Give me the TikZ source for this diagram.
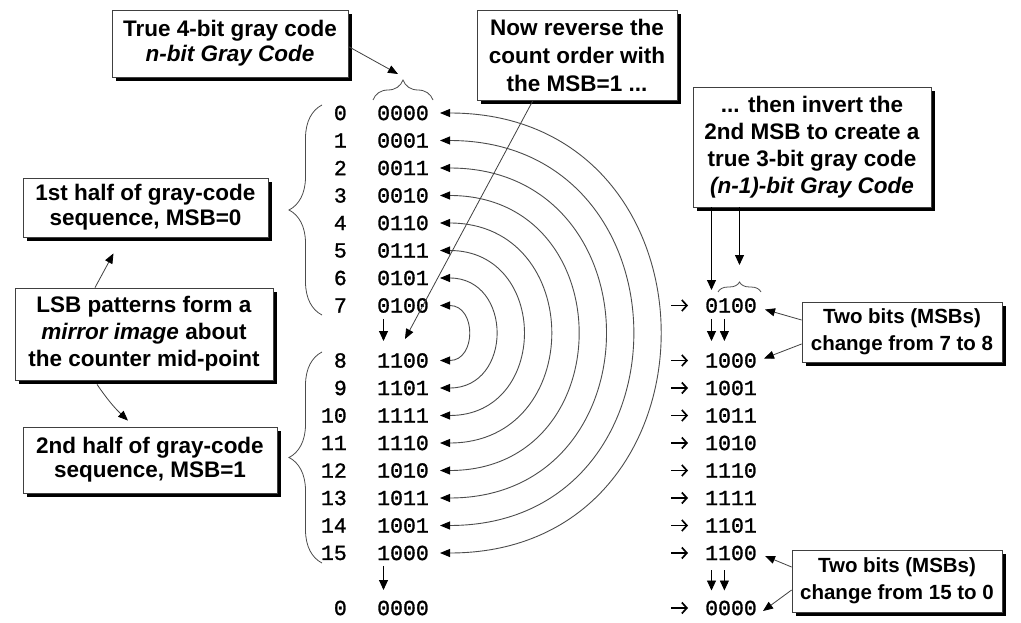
\documentclass[tikz,border=0pt]{standalone}
\usepackage{fontspec}
\setmainfont{Liberation Sans}
\newfontfamily\codefont[FakeBold=1.2]{Liberation Mono}
\usetikzlibrary{arrows.meta,shadows,decorations.pathreplacing}
\begin{document}
\begin{tikzpicture}[x=1pt,y=-1pt,
 box/.style={draw=black!75, line width=0.8pt, fill=white, align=center, inner sep=0pt,
   font=\fontsize{22.5}{26}\selectfont\bfseries,
   drop shadow={shadow xshift=4pt, shadow yshift=-4pt, fill=black, opacity=1}},
 codetxt/.style={font=\fontsize{21.5}{24}\selectfont\codefont, inner sep=0pt},
 ptr/.style={draw=black!75, line width=0.8pt, -{Triangle[length=10pt,width=8pt,color=black]}},
 vptr/.style={draw=black, line width=0.9pt, -{Triangle[length=10pt,width=9pt]}},
 rarr/.style={draw=black, line width=1.7pt, -{Straight Barb[length=5pt,width=11pt,line width=1.7pt]}},
 arcl/.style={draw=black!70, line width=0.9pt,
   {Triangle[length=10pt,width=8pt,color=black]}-{Triangle[length=10pt,width=8pt,color=black]}},
 brc/.style={draw=black!70, line width=0.8pt, decorate, decoration={brace, amplitude=#1}},
]
\fill[white] (0,0) rectangle (1021,623);
\useasboundingbox (0,0) rectangle (1021,623);

% boxes
\node[box, minimum width=236pt, minimum height=67pt, font=\fontsize{22.5}{25}\selectfont\bfseries] (B1) at (230,43.5)
  {True 4-bit gray code\\\textit{n-bit Gray Code}};
\node[box, minimum width=200pt, minimum height=90pt, font=\fontsize{22.5}{28}\selectfont\bfseries] (B2) at (577,55)
  {Now reverse the\\count order with\\the MSB=1 ...};
\node[box, minimum width=238pt, minimum height=120pt, font=\fontsize{22.5}{27}\selectfont\bfseries] (B3) at (812,147)
  {... then invert the\\2nd MSB to create a\\true 3-bit gray code\\\textit{(n-1)-bit Gray Code}};
\node[box, minimum width=245pt, minimum height=59pt, font=\fontsize{22.5}{25}\selectfont\bfseries] (B4) at (145.5,207.5)
  {1st half of gray-code\\sequence, MSB=0};
\node[box, minimum width=258pt, minimum height=92pt, font=\fontsize{22.5}{27}\selectfont\bfseries] (B5) at (144,334)
  {LSB patterns form a\\\textit{mirror image} about\\the counter mid-point};
\node[box, minimum width=254pt, minimum height=66pt, font=\fontsize{22.5}{24}\selectfont\bfseries] (B6) at (150,460)
  {2nd half of gray-code\\sequence, MSB=1};
\node[box, minimum width=200pt, minimum height=60pt, font=\fontsize{20.5}{27}\selectfont\bfseries] (B7) at (902,332)
  {Two bits (MSBs)\\change from 7 to 8};
\node[box, minimum width=210pt, minimum height=62pt, font=\fontsize{20.5}{27}\selectfont\bfseries] (B8) at (897,581)
  {Two bits (MSBs)\\change from 15 to 0};

% left column
\foreach \i/\k/\c in {0/0/0000,1/1/0001,2/2/0011,3/3/0010,4/4/0110,5/5/0111,6/6/0101,7/7/0100,
  8/9/1100,9/10/1101,10/11/1111,11/12/1110,12/13/1010,13/14/1011,14/15/1001,15/16/1000}{
  \node[codetxt, anchor=east] (n\i) at (347,{113+27.5*\k}) {\i};
  \node[codetxt, anchor=west] (c\i) at (377,{113+27.5*\k}) {\c};
  \coordinate (t\i) at (440,{113+27.5*\k});
}
\node[codetxt, anchor=east] (nF) at (347,608) {0};
\node[codetxt, anchor=west] (cF) at (377,608) {0000};

% arcs
\foreach \a/\b in {0/15,1/14,2/13,3/12,4/11,5/10,6/9,7/8}
  \draw[arcl] (t\a) to[out=0,in=0,looseness=1.7] (t\b);

% right column
\foreach \i/\k/\c in {7/7/0100,8/9/1000,9/10/1001,10/11/1011,11/12/1010,12/13/1110,13/14/1111,14/15/1101,15/16/1100,F/18/0000}{
  \node[codetxt, anchor=west] (r\i) at (705,{113+27.5*\k}) {\c};
  \draw[rarr] ([xshift=-34pt]r\i.west) -- ([xshift=-17pt]r\i.west);
}

% braces
\draw[brc=33pt] (322,315) -- (322,105);
\draw[brc=33pt] (322,563) -- (322,352);
\draw[brc=20pt] (373,100) -- (433,100);
\draw[brc=10pt] (718,292) -- (761,292);
\coordinate (tbt) at (403,78);
\coordinate (bt) at (739.5,282);

% down arrows
\draw[vptr] ([xshift=6.5pt,yshift=-6pt]c7.south west) -- ([xshift=6.5pt,yshift=12pt]c8.north west);
\draw[vptr] ([xshift=6.5pt,yshift=-5.5pt]c15.south west) -- ([xshift=6.5pt,yshift=10.5pt]cF.north west);
\draw[vptr] ([xshift=6.5pt,yshift=-6pt]r7.south west) -- ([xshift=6.5pt,yshift=12pt]r8.north west);
\draw[vptr] ([xshift=19.4pt,yshift=-6pt]r7.south west) -- ([xshift=19.4pt,yshift=12pt]r8.north west);
\draw[vptr] ([xshift=6.5pt,yshift=-10pt]r15.south west) -- ([xshift=6.5pt,yshift=10pt]rF.north west);
\draw[vptr] ([xshift=19.4pt,yshift=-10pt]r15.south west) -- ([xshift=19.4pt,yshift=10pt]rF.north west);

% pointers
\draw[ptr] ([yshift=-3pt]B1.east) -- ([xshift=-5pt,yshift=4pt]tbt);
\draw[ptr] ([xshift=-44pt]B2.south) -- ([xshift=28pt,yshift=14pt]c8.north west);
\coordinate (rx1) at ([xshift=6.5pt]r7.north west);
\draw[vptr] (B3.south -| rx1) -- ([yshift=8pt]rx1);
\draw[vptr] (B3.south -| bt) -- ([yshift=17pt]bt);
\draw[ptr] ([yshift=12pt]B7.west) -- ([xshift=8pt,yshift=-4pt]r7.east);
\draw[ptr] ([yshift=-12pt]B7.west) -- ([xshift=7pt,yshift=2pt]r8.east);
\draw[ptr] ([yshift=14pt]B8.west) -- ([xshift=8pt,yshift=-3pt]r15.east);
\draw[ptr] ([yshift=-9pt]B8.west) -- ([xshift=6pt,yshift=-3pt]rF.east);
\draw[ptr] ([xshift=-49pt]B5.north) -- ([xshift=-32pt,yshift=-16pt]B4.south);
\draw[ptr] ([xshift=-47pt,yshift=-4pt]B5.south) to[bend right=6] ([xshift=-22pt,yshift=6pt]B6.north);
\end{tikzpicture}
\end{document}
